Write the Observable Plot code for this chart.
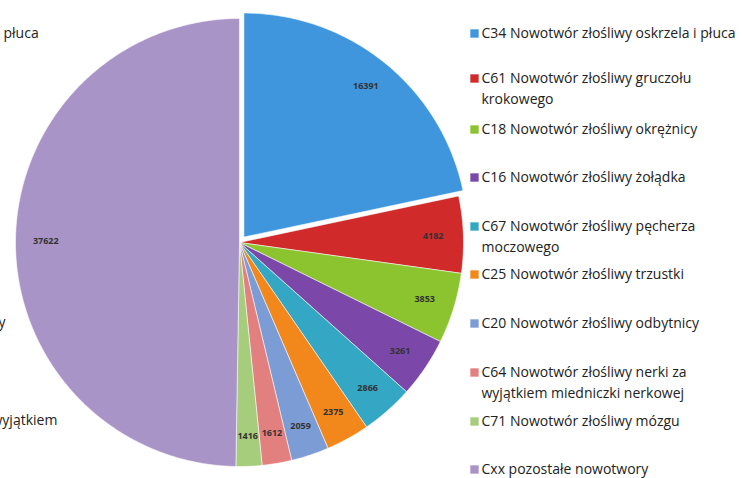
<!DOCTYPE html>
<html><head><meta charset="utf-8">
<script src="https://cdn.jsdelivr.net/npm/d3@7"></script>
<script src="https://cdn.jsdelivr.net/npm/@observablehq/plot@0.6"></script>
<style>body{margin:0;background:#fff}svg{display:block}</style>
</head><body><div id="chart"></div>
<script>
const codes = ["C34","C61","C18","C16","C67","C25","C20","C64","C71","Cxx"];
const legendLabels = [
  "C34 Nowotwór złośliwy oskrzela i płuca",
  "C61 Nowotwór złośliwy gruczołu\nkrokowego",
  "C18 Nowotwór złośliwy okrężnicy",
  "C16 Nowotwór złośliwy żołądka",
  "C67 Nowotwór złośliwy pęcherza\nmoczowego",
  "C25 Nowotwór złośliwy trzustki",
  "C20 Nowotwór złośliwy odbytnicy",
  "C64 Nowotwór złośliwy nerki za\nwyjątkiem miedniczki nerkowej",
  "C71 Nowotwór złośliwy mózgu",
  "Cxx pozostałe nowotwory"
];
const values = [16391, 4182, 3853, 3261, 2866, 2375, 2059, 1612, 1416, 37622];
const colors = ["#3f96dc","#d02a2b","#8cc42f","#7b47a8","#33a7c3","#f2871c","#7c9cd6","#e27f7f","#a6cd7b","#a994c8"];
const leftFragments = ["płuca","złośliwy","wyjątkiem"];

const W = 742, H = 478;
const cx = 239, cy = 242, R = 224;
const explode = [7,0,0,0,0,0,0,0,0,0];
const legendY = [33, 78, 129, 177, 226, 274, 323, 372, 421, 469];

const arcs = d3.pie().sort(null).value(d => d)(values);
const polys = [];
const labels = [];
arcs.forEach((a, i) => {
  const mid = (a.startAngle + a.endAngle) / 2;
  const ox = cx + explode[i] * Math.sin(mid), oy = cy - explode[i] * Math.cos(mid);
  polys.push({k: i, x: ox, y: oy});
  const n = Math.max(4, Math.ceil((a.endAngle - a.startAngle) * 60));
  for (let j = 0; j <= n; j++) {
    const t = a.startAngle + (a.endAngle - a.startAngle) * j / n;
    polys.push({k: i, x: ox + R * Math.sin(t), y: oy - R * Math.cos(t)});
  }
  polys.push({k: i, x: ox, y: oy});
  labels.push({x: ox + 0.865 * R * Math.sin(mid), y: oy - 0.865 * R * Math.cos(mid), v: values[i]});
});

const legend = legendLabels.map((l, i) => {
  const parts = l.split("\n");
  return {l1: parts[0], l2: parts[1] || "", y: legendY[i], c: colors[i]};
});

const font = 14;
const plot = Plot.plot({
  width: W, height: H, margin: 0,
  x: {domain: [0, W], range: [0, W], axis: null},
  y: {domain: [0, H], range: [0, H], axis: null},
  color: {type: "identity"},
  style: {fontFamily: "'Open Sans', Lato, sans-serif", background: "#fff"},
  marks: [
    Plot.line(polys, {x: "x", y: "y", z: "k", fill: d => colors[d.k], stroke: "#ffffff", strokeWidth: 0.8, strokeOpacity: 0.7, curve: "linear"}),
    Plot.text(labels, {x: "x", y: "y", text: d => String(d.v), fontSize: 9, fontWeight: "bold", fill: "#333"}),
    Plot.dot(legend, {x: 474, y: "y", symbol: "square", r: 5, fill: "c", stroke: "#ffffff", strokeWidth: 0.5}),
    Plot.text(legend, {x: 481, y: "y", text: "l1", textAnchor: "start", fontSize: font, fill: "#222"}),
    Plot.text(legend.filter(d => d.l2), {x: 481, y: d => d.y + 21, text: "l2", textAnchor: "start", fontSize: font, fill: "#222"}),
    Plot.text([leftFragments[0]], {x: 3, y: 33, text: d => d, textAnchor: "start", fontSize: font, fill: "#222"}),
    Plot.text([leftFragments[1]], {x: 5, y: 322, text: d => d, textAnchor: "end", fontSize: font, fill: "#222"}),
    Plot.text([leftFragments[2]], {x: -9, y: 420, text: d => d, textAnchor: "start", fontSize: font, fill: "#222"})
  ]
});
document.getElementById("chart").appendChild(plot);
</script></body></html>
